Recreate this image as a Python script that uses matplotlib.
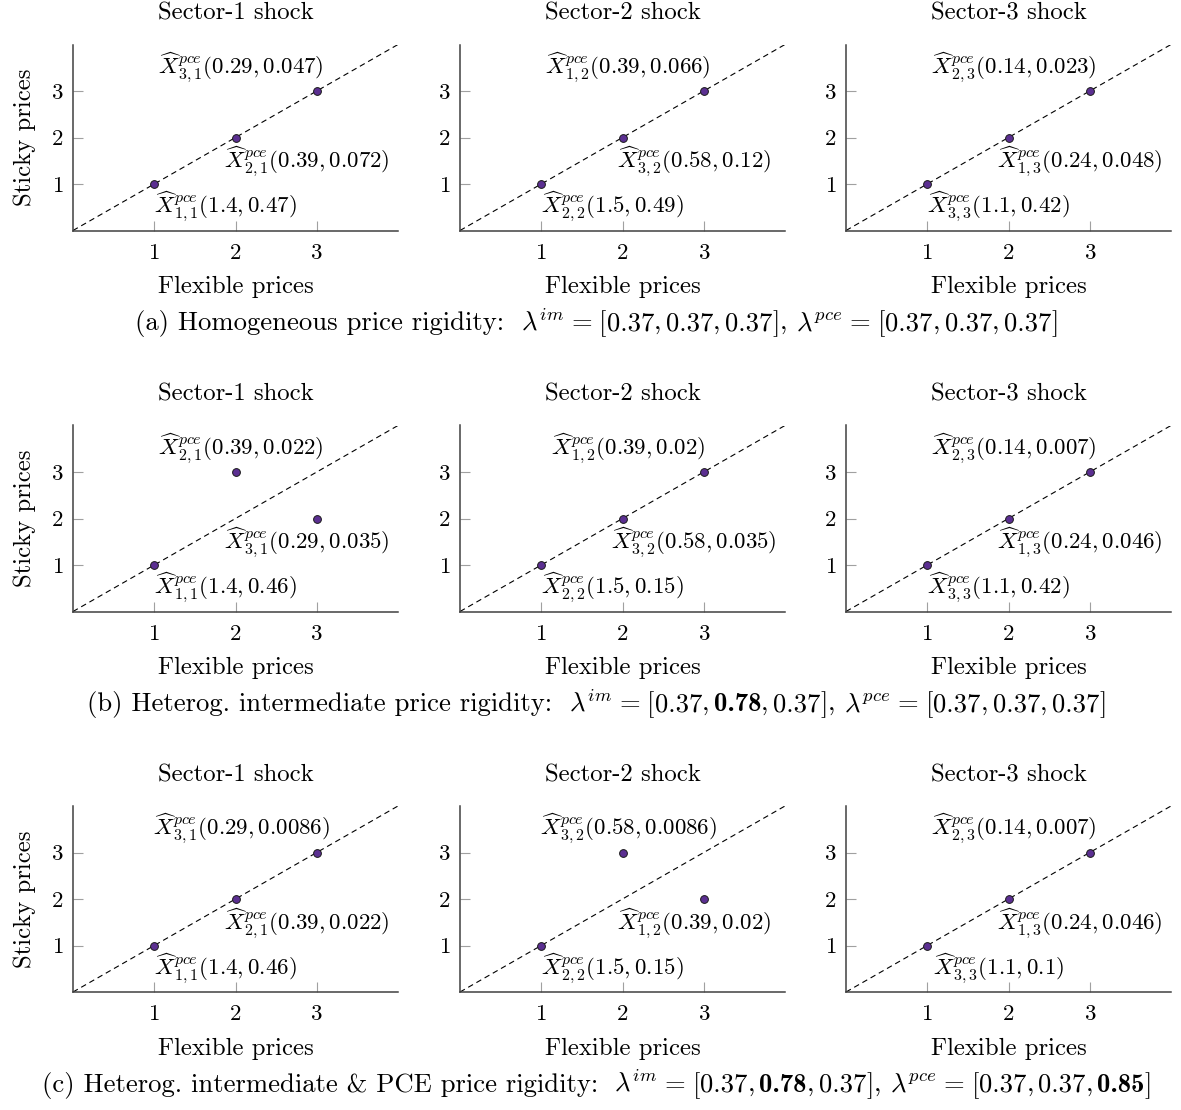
import matplotlib
matplotlib.use("Agg")
from matplotlib import pyplot as plt
from matplotlib.offsetbox import TextArea, HPacker, AnchoredOffsetbox, DrawingArea

plt.rcParams["font.family"] = "serif"
plt.rcParams["font.serif"] = ["cmr10"]
plt.rcParams["mathtext.fontset"] = "cm"
plt.rcParams["axes.formatter.use_mathtext"] = True

# rank of each sector's response under flexible prices (x) and sticky prices (y)
flex_rank = [1, 2, 3]
sticky_rank = [
    [[1, 2, 3], [1, 2, 3], [1, 2, 3]],
    [[1, 3, 2], [1, 2, 3], [1, 2, 3]],
    [[1, 2, 3], [1, 3, 2], [1, 2, 3]],
]
# sector index of the point at each flexible rank
sector = [
    [[1, 2, 3], [2, 3, 1], [3, 1, 2]],
    [[1, 2, 3], [2, 3, 1], [3, 1, 2]],
    [[1, 2, 3], [2, 3, 1], [3, 1, 2]],
]
flex_val = [
    [["1.4", "0.39", "0.29"], ["1.5", "0.58", "0.39"], ["1.1", "0.24", "0.14"]],
    [["1.4", "0.39", "0.29"], ["1.5", "0.58", "0.39"], ["1.1", "0.24", "0.14"]],
    [["1.4", "0.39", "0.29"], ["1.5", "0.58", "0.39"], ["1.1", "0.24", "0.14"]],
]
sticky_val = [
    [["0.47", "0.072", "0.047"], ["0.49", "0.12", "0.066"], ["0.42", "0.048", "0.023"]],
    [["0.46", "0.022", "0.035"], ["0.15", "0.035", "0.02"], ["0.42", "0.046", "0.007"]],
    [["0.46", "0.022", "0.0086"], ["0.15", "0.0086", "0.02"], ["0.1", "0.046", "0.007"]],
]
shock_titles = ["Sector-1 shock", "Sector-2 shock", "Sector-3 shock"]
caption_prefix = [
    "(a) Homogeneous price rigidity:",
    "(b) Heterog. intermediate price rigidity:",
    "(c) Heterog. intermediate & PCE price rigidity:",
]
lam_base = 0.37
lam_im = [[0.37, 0.37, 0.37], [0.37, 0.78, 0.37], [0.37, 0.78, 0.37]]
lam_pce = [[0.37, 0.37, 0.37], [0.37, 0.37, 0.37], [0.37, 0.37, 0.85]]

# label slot (x centre, baseline) chosen by sticky rank
SLOTS = {3: (2.07, 3.37), 2: (2.88, 1.34), 1: (1.88, 0.37)}
FS = 17.8
CFS = 19.2
REG = dict(fontsize=CFS, family="serif")
BOLD = dict(fontsize=CFS, family="cmb10")

W, H = 1181, 1110
fig = plt.figure(figsize=(W / 100, H / 100), dpi=100)

col_left = [73, 460, 846]
row_bottom = [230.5, 611.5, 992]
ax_w, ax_h = 325, 186


def space(em):
    return DrawingArea(em * CFS, 0)


def caption(r):
    parts = [TextArea(caption_prefix[r], textprops=REG), space(0.6)]
    for name, vec in (("im", lam_im[r]), ("pce", lam_pce[r])):
        parts += [TextArea(r"$\lambda^{%s}$" % name, textprops=REG), space(0.28),
                  TextArea("=", textprops=REG), space(0.28), TextArea("[", textprops=REG)]
        for k, v in enumerate(vec):
            parts.append(TextArea(f"{v:.2f}", textprops=BOLD if v != lam_base else REG))
            if k < len(vec) - 1:
                parts += [TextArea(",", textprops=REG), space(0.167)]
        parts.append(TextArea("]", textprops=REG))
        if name == "im":
            parts += [TextArea(",", textprops=REG), space(0.33)]
    box = HPacker(children=parts, align="baseline", pad=0, sep=0)
    anch = AnchoredOffsetbox(loc="center", child=box, pad=0, borderpad=0, frameon=False,
                             bbox_to_anchor=(597 / W, 1 - (row_bottom[r] + 92.5) / H),
                             bbox_transform=fig.transFigure)
    fig.add_artist(anch)


for r in range(3):
    for c in range(3):
        ax = fig.add_axes([col_left[c] / W, 1 - row_bottom[r] / H, ax_w / W, ax_h / H])
        ax.set(xlim=[0, 4], ylim=[0, 4], xticks=[1, 2, 3], yticks=[1, 2, 3])
        for s in ["top", "right"]:
            ax.spines[s].set_visible(False)
        for s in ["left", "bottom"]:
            ax.spines[s].set_color("#404040")
            ax.spines[s].set_linewidth(1.1)
        ax.tick_params(direction="in", length=7, width=0.8, color="#a0a0a0",
                       labelsize=16.5, labelcolor="black")
        ax.tick_params(axis="x", pad=9)
        ax.tick_params(axis="y", pad=7)
        ax.axline((0, 0), slope=1, color="black", lw=0.8, dashes=(5, 3.5), zorder=1)
        ys = sticky_rank[r][c]
        ax.plot(flex_rank, ys, "o", ms=5.6, mfc="#5b2f91", mec="#1a1a1a", mew=0.7,
                zorder=3, clip_on=False)
        for k in range(3):
            sx, sy = SLOTS[ys[k]]
            lab = r"$\widehat{X}^{pce}_{%d,%d}(%s, %s)$" % (
                sector[r][c][k], c + 1, flex_val[r][c][k], sticky_val[r][c][k])
            ax.text(sx, sy, lab, ha="center", va="baseline", fontsize=16.5)
        ax.set_title(shock_titles[c], fontsize=FS, pad=18)
        ax.set_xlabel("Flexible prices", fontsize=FS)
        ax.xaxis.set_label_coords(0.5, -0.245)
        if c == 0:
            ax.set_ylabel("Sticky prices", fontsize=FS)
            ax.yaxis.set_label_coords(-0.115, 0.5)
    caption(r)

fig.savefig("out.png", dpi=100)
